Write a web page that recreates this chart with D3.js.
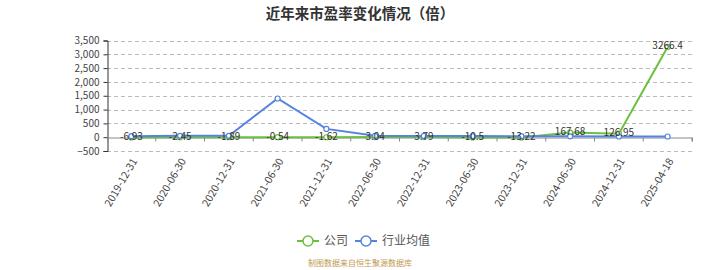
<!DOCTYPE html>
<html>
<head>
<meta charset="utf-8">
<script src="https://cdn.jsdelivr.net/npm/d3@7/dist/d3.min.js"></script>
<style>
    body { margin: 0; background: #fff; }
    text { font-family: "Noto Sans CJK SC", "Noto Sans", sans-serif; }
</style>
</head>
<body>
<svg id="chart"></svg>
<script>
// Chart data
const categories = ["2019-12-31", "2020-06-30", "2020-12-31", "2021-06-30", "2021-12-31", "2022-06-30",
    "2022-12-31", "2023-06-30", "2023-12-31", "2024-06-30", "2024-12-31", "2025-04-18"];
const companyPE = [-6.93, -2.45, -1.89, -0.54, -1.62, 3.04, 3.79, -10.5, -13.22, 167.68, 126.95, 3266.4];
const industryPE = [35, 50, 50, 1400, 300, 50, 45, 40, 35, 30, 25, 25];
const yTicks = [-500, 0, 500, 1000, 1500, 2000, 2500, 3000, 3500];

const width = 720, height = 270;
const margin = { top: 40, right: 28, bottom: 119, left: 107 };
const numFont = "'DejaVu Sans', sans-serif";

const svg = d3.select("#chart").attr("width", width).attr("height", height);

// Title
svg.append("text")
    .attr("x", width / 2).attr("y", 19)
    .attr("text-anchor", "middle")
    .attr("font-size", 14.5).attr("font-weight", "bold").attr("fill", "#333")
    .text("近年来市盈率变化情况（倍）");

const x = d3.scaleBand().domain(categories).range([margin.left, width - margin.right]);
const y = d3.scaleLinear().domain([-500, 3500]).range([height - margin.bottom, margin.top + 0.5]);

// Dashed grid
svg.append("g").selectAll("line")
    .data(yTicks.filter(d => d !== 0))
    .enter().append("line")
    .attr("x1", margin.left).attr("x2", width - margin.right)
    .attr("y1", d => Math.round(y(d)) + 0.5).attr("y2", d => Math.round(y(d)) + 0.5)
    .attr("stroke", "#bbb").attr("stroke-dasharray", "4,3");

// Y axis
const yAxis = svg.append("g")
    .attr("transform", `translate(${margin.left + 0.5},0)`)
    .call(d3.axisLeft(y).tickValues(yTicks).tickSize(4).tickFormat(d3.format(",")));
yAxis.select(".domain").attr("stroke", "#333");
yAxis.selectAll(".tick line").attr("stroke", "#333");
yAxis.selectAll(".tick text").attr("font-size", 10).attr("fill", "#444").attr("dx", -1)
    .attr("font-family", numFont);

// X axis at zero
const xAxis = svg.append("g")
    .attr("transform", `translate(0,${Math.round(y(0)) + 0.5})`)
    .call(d3.axisBottom(x).tickSize(4).tickSizeOuter(4));
xAxis.select(".domain").attr("stroke", "#888");
xAxis.selectAll(".tick line")
    .attr("stroke", "#888")
    .attr("transform", `translate(${x.bandwidth() / 2},0)`);
xAxis.selectAll(".tick text").remove();

// Rotated category labels at the bottom
svg.append("g").selectAll("text")
    .data(categories)
    .enter().append("text")
    .attr("transform", d => `translate(${x(d) + x.bandwidth() / 2 + 3},${height - margin.bottom + 8}) rotate(-60)`)
    .attr("text-anchor", "end")
    .attr("dy", "0.35em")
    .attr("font-size", 10.5).attr("fill", "#444")
    .attr("font-family", numFont)
    .text(d => d);

const cx = d => x(d) + x.bandwidth() / 2;
const series = [
    { name: "公司", values: companyPE, color: "#6cc040" },
    { name: "行业均值", values: industryPE, color: "#5584e0" }
];

series.forEach(s => {
    const line = d3.line().x((v, i) => cx(categories[i])).y(v => y(v));
    svg.append("path")
        .datum(s.values)
        .attr("d", line)
        .attr("fill", "none").attr("stroke", s.color).attr("stroke-width", 2);
    svg.append("g").selectAll("circle")
        .data(s.values)
        .enter().append("circle")
        .attr("cx", (v, i) => cx(categories[i])).attr("cy", v => y(v))
        .attr("r", 2.5)
        .attr("fill", "#fff").attr("stroke", s.color).attr("stroke-width", 1.2);
});

// Company value labels
svg.append("g").selectAll("text")
    .data(companyPE)
    .enter().append("text")
    .attr("x", (v, i) => cx(categories[i]))
    .attr("y", v => y(v) - 1)
    .attr("dy", "0.35em")
    .attr("text-anchor", "middle")
    .attr("font-size", 10).attr("fill", "#333")
    .attr("font-family", numFont)
    .text(v => v);

// Legend
const legend = svg.append("g").attr("transform", "translate(0,241)");
const legendItems = [
    { name: "公司", color: "#6cc040", x: 297 },
    { name: "行业均值", color: "#5584e0", x: 355 }
];
legendItems.forEach(it => {
    legend.append("line")
        .attr("x1", it.x).attr("x2", it.x + 22)
        .attr("stroke", it.color).attr("stroke-width", 2);
    legend.append("circle")
        .attr("cx", it.x + 11).attr("r", 5)
        .attr("fill", "#fff").attr("stroke", it.color).attr("stroke-width", 1.5);
    legend.append("text")
        .attr("x", it.x + 27).attr("dy", "0.35em")
        .attr("font-size", 12).attr("fill", "#555")
        .text(it.name);
});

// Source note
svg.append("text")
    .attr("x", width / 2).attr("y", 266)
    .attr("text-anchor", "middle")
    .attr("font-size", 8).attr("fill", "#c09a50")
    .text("制图数据来自恒生聚源数据库");
</script>
</body>
</html>
